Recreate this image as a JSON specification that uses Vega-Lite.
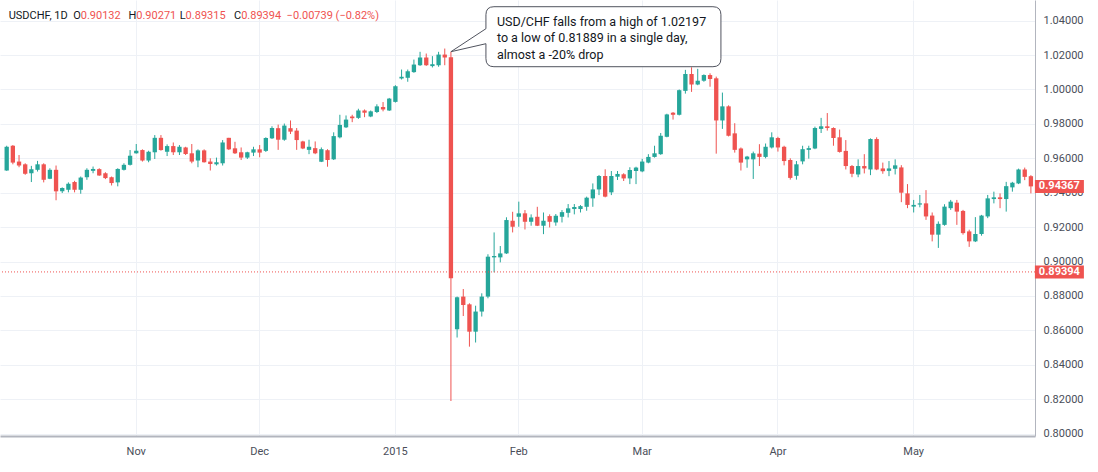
{
  "$schema": "https://vega.github.io/schema/vega-lite/v6.json",
  "width": 1035,
  "height": 436,
  "autosize": {"type": "none"},
  "padding": {"left": 0, "top": 0, "right": 63, "bottom": 36},
  "background": "#ffffff",
  "config": {"view": {"stroke": null}, "font": "Roboto", "axis": {"labelOverlap": false, "labelBound": false}},
  "datasets": {
    "ohlc": [
      {"d":"2014-10-03","o":0.9529,"h":0.9673,"l":0.9527,"c":0.9667},
      {"d":"2014-10-06","o":0.9673,"h":0.9677,"l":0.9565,"c":0.9575},
      {"d":"2014-10-07","o":0.9581,"h":0.9619,"l":0.9548,"c":0.9558},
      {"d":"2014-10-08","o":0.9565,"h":0.9571,"l":0.9504,"c":0.9510},
      {"d":"2014-10-09","o":0.9513,"h":0.9556,"l":0.9462,"c":0.9537},
      {"d":"2014-10-10","o":0.9533,"h":0.9585,"l":0.9523,"c":0.9565},
      {"d":"2014-10-13","o":0.9565,"h":0.9571,"l":0.9460,"c":0.9475},
      {"d":"2014-10-14","o":0.9481,"h":0.9542,"l":0.9479,"c":0.9533},
      {"d":"2014-10-15","o":0.9533,"h":0.9558,"l":0.9356,"c":0.9408},
      {"d":"2014-10-16","o":0.9408,"h":0.9431,"l":0.9398,"c":0.9427},
      {"d":"2014-10-17","o":0.9417,"h":0.9460,"l":0.9402,"c":0.9452},
      {"d":"2014-10-20","o":0.9462,"h":0.9469,"l":0.9402,"c":0.9417},
      {"d":"2014-10-21","o":0.9417,"h":0.9494,"l":0.9394,"c":0.9488},
      {"d":"2014-10-22","o":0.9490,"h":0.9542,"l":0.9475,"c":0.9533},
      {"d":"2014-10-23","o":0.9527,"h":0.9552,"l":0.9513,"c":0.9538},
      {"d":"2014-10-24","o":0.9537,"h":0.9542,"l":0.9498,"c":0.9500},
      {"d":"2014-10-27","o":0.9513,"h":0.9519,"l":0.9479,"c":0.9485},
      {"d":"2014-10-28","o":0.9490,"h":0.9494,"l":0.9442,"c":0.9456},
      {"d":"2014-10-29","o":0.9460,"h":0.9542,"l":0.9437,"c":0.9538},
      {"d":"2014-10-30","o":0.9533,"h":0.9571,"l":0.9529,"c":0.9562},
      {"d":"2014-10-31","o":0.9562,"h":0.9648,"l":0.9558,"c":0.9615},
      {"d":"2014-11-03","o":0.9629,"h":0.9683,"l":0.9627,"c":0.9644},
      {"d":"2014-11-04","o":0.9648,"h":0.9652,"l":0.9581,"c":0.9587},
      {"d":"2014-11-05","o":0.9587,"h":0.9644,"l":0.9577,"c":0.9638},
      {"d":"2014-11-06","o":0.9635,"h":0.9735,"l":0.9596,"c":0.9719},
      {"d":"2014-11-07","o":0.9719,"h":0.9735,"l":0.9644,"c":0.9648},
      {"d":"2014-11-10","o":0.9638,"h":0.9681,"l":0.9613,"c":0.9671},
      {"d":"2014-11-11","o":0.9671,"h":0.9692,"l":0.9619,"c":0.9635},
      {"d":"2014-11-12","o":0.9635,"h":0.9677,"l":0.9619,"c":0.9667},
      {"d":"2014-11-13","o":0.9663,"h":0.9667,"l":0.9619,"c":0.9625},
      {"d":"2014-11-14","o":0.9629,"h":0.9683,"l":0.9571,"c":0.9581},
      {"d":"2014-11-17","o":0.9587,"h":0.9652,"l":0.9548,"c":0.9646},
      {"d":"2014-11-18","o":0.9646,"h":0.9652,"l":0.9575,"c":0.9577},
      {"d":"2014-11-19","o":0.9581,"h":0.9600,"l":0.9529,"c":0.9567},
      {"d":"2014-11-20","o":0.9565,"h":0.9604,"l":0.9558,"c":0.9577},
      {"d":"2014-11-21","o":0.9571,"h":0.9706,"l":0.9558,"c":0.9692},
      {"d":"2014-11-24","o":0.9719,"h":0.9719,"l":0.9648,"c":0.9652},
      {"d":"2014-11-25","o":0.9658,"h":0.9696,"l":0.9625,"c":0.9629},
      {"d":"2014-11-26","o":0.9635,"h":0.9663,"l":0.9590,"c":0.9604},
      {"d":"2014-11-27","o":0.9604,"h":0.9638,"l":0.9596,"c":0.9635},
      {"d":"2014-11-28","o":0.9633,"h":0.9667,"l":0.9613,"c":0.9652},
      {"d":"2014-12-01","o":0.9652,"h":0.9677,"l":0.9606,"c":0.9633},
      {"d":"2014-12-02","o":0.9643,"h":0.9722,"l":0.9637,"c":0.9718},
      {"d":"2014-12-03","o":0.9716,"h":0.9786,"l":0.9712,"c":0.9776},
      {"d":"2014-12-04","o":0.9775,"h":0.9796,"l":0.9649,"c":0.9708},
      {"d":"2014-12-05","o":0.9708,"h":0.9802,"l":0.9702,"c":0.9790},
      {"d":"2014-12-08","o":0.9775,"h":0.9820,"l":0.9741,"c":0.9755},
      {"d":"2014-12-09","o":0.9761,"h":0.9776,"l":0.9649,"c":0.9706},
      {"d":"2014-12-10","o":0.9698,"h":0.9702,"l":0.9653,"c":0.9657},
      {"d":"2014-12-11","o":0.9649,"h":0.9708,"l":0.9624,"c":0.9667},
      {"d":"2014-12-12","o":0.9659,"h":0.9698,"l":0.9624,"c":0.9629},
      {"d":"2014-12-15","o":0.9580,"h":0.9663,"l":0.9578,"c":0.9653},
      {"d":"2014-12-16","o":0.9647,"h":0.9653,"l":0.9551,"c":0.9590},
      {"d":"2014-12-17","o":0.9594,"h":0.9751,"l":0.9590,"c":0.9729},
      {"d":"2014-12-18","o":0.9722,"h":0.9853,"l":0.9716,"c":0.9794},
      {"d":"2014-12-19","o":0.9780,"h":0.9849,"l":0.9776,"c":0.9825},
      {"d":"2014-12-22","o":0.9843,"h":0.9853,"l":0.9810,"c":0.9833},
      {"d":"2014-12-23","o":0.9835,"h":0.9888,"l":0.9829,"c":0.9878},
      {"d":"2014-12-24","o":0.9878,"h":0.9884,"l":0.9839,"c":0.9865},
      {"d":"2014-12-26","o":0.9843,"h":0.9878,"l":0.9839,"c":0.9873},
      {"d":"2014-12-29","o":0.9869,"h":0.9914,"l":0.9863,"c":0.9902},
      {"d":"2014-12-30","o":0.9898,"h":0.9927,"l":0.9873,"c":0.9884},
      {"d":"2014-12-31","o":0.9878,"h":0.9951,"l":0.9875,"c":0.9947},
      {"d":"2015-01-02","o":0.9928,"h":1.0025,"l":0.9924,"c":1.0019},
      {"d":"2015-01-05","o":1.0064,"h":1.0116,"l":1.0058,"c":1.0074},
      {"d":"2015-01-06","o":1.0068,"h":1.0116,"l":1.0045,"c":1.0106},
      {"d":"2015-01-07","o":1.0101,"h":1.0174,"l":1.0097,"c":1.0145},
      {"d":"2015-01-08","o":1.0141,"h":1.0219,"l":1.0137,"c":1.0186},
      {"d":"2015-01-09","o":1.0186,"h":1.0209,"l":1.0137,"c":1.0141},
      {"d":"2015-01-12","o":1.0136,"h":1.0194,"l":1.0128,"c":1.0147},
      {"d":"2015-01-13","o":1.0141,"h":1.0219,"l":1.0132,"c":1.0203},
      {"d":"2015-01-14","o":1.0203,"h":1.0238,"l":1.0141,"c":1.0186},
      {"d":"2015-01-15","o":1.0188,"h":1.02197,"l":0.81889,"c":0.8902},
      {"d":"2015-01-16","o":0.8606,"h":0.8796,"l":0.8558,"c":0.8792},
      {"d":"2015-01-20","o":0.8796,"h":0.8840,"l":0.8683,"c":0.8747},
      {"d":"2015-01-21","o":0.8751,"h":0.8757,"l":0.8505,"c":0.8592},
      {"d":"2015-01-22","o":0.8592,"h":0.8743,"l":0.8529,"c":0.8709},
      {"d":"2015-01-23","o":0.8709,"h":0.8815,"l":0.8680,"c":0.8796},
      {"d":"2015-01-26","o":0.8796,"h":0.9042,"l":0.8786,"c":0.9028},
      {"d":"2015-01-27","o":0.9024,"h":0.9169,"l":0.8937,"c":0.9032},
      {"d":"2015-01-28","o":0.9024,"h":0.9090,"l":0.8995,"c":0.9047},
      {"d":"2015-01-29","o":0.9047,"h":0.9257,"l":0.9044,"c":0.9241},
      {"d":"2015-01-30","o":0.9237,"h":0.9289,"l":0.9169,"c":0.9202},
      {"d":"2015-02-02","o":0.9260,"h":0.9348,"l":0.9202,"c":0.9280},
      {"d":"2015-02-03","o":0.9280,"h":0.9299,"l":0.9186,"c":0.9231},
      {"d":"2015-02-04","o":0.9231,"h":0.9274,"l":0.9208,"c":0.9256},
      {"d":"2015-02-05","o":0.9260,"h":0.9318,"l":0.9206,"c":0.9208},
      {"d":"2015-02-06","o":0.9208,"h":0.9285,"l":0.9159,"c":0.9237},
      {"d":"2015-02-09","o":0.9264,"h":0.9274,"l":0.9198,"c":0.9231},
      {"d":"2015-02-10","o":0.9227,"h":0.9276,"l":0.9208,"c":0.9266},
      {"d":"2015-02-11","o":0.9260,"h":0.9299,"l":0.9227,"c":0.9287},
      {"d":"2015-02-12","o":0.9283,"h":0.9334,"l":0.9256,"c":0.9309},
      {"d":"2015-02-13","o":0.9305,"h":0.9334,"l":0.9274,"c":0.9317},
      {"d":"2015-02-16","o":0.9305,"h":0.9328,"l":0.9285,"c":0.9322},
      {"d":"2015-02-17","o":0.9318,"h":0.9377,"l":0.9295,"c":0.9371},
      {"d":"2015-02-18","o":0.9367,"h":0.9454,"l":0.9318,"c":0.9419},
      {"d":"2015-02-19","o":0.9419,"h":0.9503,"l":0.9386,"c":0.9497},
      {"d":"2015-02-20","o":0.9497,"h":0.9536,"l":0.9373,"c":0.9377},
      {"d":"2015-02-23","o":0.9402,"h":0.9526,"l":0.9386,"c":0.9497},
      {"d":"2015-02-24","o":0.9493,"h":0.9526,"l":0.9474,"c":0.9509},
      {"d":"2015-02-25","o":0.9507,"h":0.9513,"l":0.9468,"c":0.9483},
      {"d":"2015-02-26","o":0.9483,"h":0.9548,"l":0.9450,"c":0.9532},
      {"d":"2015-02-27","o":0.9526,"h":0.9551,"l":0.9450,"c":0.9546},
      {"d":"2015-03-02","o":0.9524,"h":0.9597,"l":0.9519,"c":0.9581},
      {"d":"2015-03-03","o":0.9575,"h":0.9624,"l":0.9571,"c":0.9608},
      {"d":"2015-03-04","o":0.9608,"h":0.9673,"l":0.9604,"c":0.9629},
      {"d":"2015-03-05","o":0.9624,"h":0.9747,"l":0.9620,"c":0.9731},
      {"d":"2015-03-06","o":0.9725,"h":0.9859,"l":0.9722,"c":0.9855},
      {"d":"2015-03-09","o":0.9865,"h":0.9869,"l":0.9825,"c":0.9853},
      {"d":"2015-03-10","o":0.9853,"h":1.0000,"l":0.9849,"c":0.9996},
      {"d":"2015-03-11","o":0.9992,"h":1.0114,"l":0.9976,"c":1.0090},
      {"d":"2015-03-12","o":1.0090,"h":1.0129,"l":0.9986,"c":1.0029},
      {"d":"2015-03-13","o":1.0029,"h":1.0120,"l":1.0025,"c":1.0051},
      {"d":"2015-03-16","o":1.0051,"h":1.0088,"l":1.0045,"c":1.0084},
      {"d":"2015-03-17","o":1.0084,"h":1.0094,"l":1.0016,"c":1.0061},
      {"d":"2015-03-18","o":1.0065,"h":1.0075,"l":0.9627,"c":0.9820},
      {"d":"2015-03-19","o":0.9820,"h":0.9982,"l":0.9771,"c":0.9902},
      {"d":"2015-03-20","o":0.9902,"h":0.9908,"l":0.9727,"c":0.9731},
      {"d":"2015-03-23","o":0.9745,"h":0.9804,"l":0.9633,"c":0.9649},
      {"d":"2015-03-24","o":0.9657,"h":0.9663,"l":0.9529,"c":0.9575},
      {"d":"2015-03-25","o":0.9594,"h":0.9614,"l":0.9545,"c":0.9610},
      {"d":"2015-03-26","o":0.9594,"h":0.9639,"l":0.9480,"c":0.9629},
      {"d":"2015-03-27","o":0.9627,"h":0.9682,"l":0.9555,"c":0.9608},
      {"d":"2015-03-30","o":0.9608,"h":0.9686,"l":0.9600,"c":0.9667},
      {"d":"2015-03-31","o":0.9663,"h":0.9751,"l":0.9657,"c":0.9722},
      {"d":"2015-04-01","o":0.9718,"h":0.9725,"l":0.9639,"c":0.9663},
      {"d":"2015-04-02","o":0.9667,"h":0.9673,"l":0.9559,"c":0.9584},
      {"d":"2015-04-03","o":0.9590,"h":0.9600,"l":0.9476,"c":0.9486},
      {"d":"2015-04-06","o":0.9498,"h":0.9584,"l":0.9476,"c":0.9565},
      {"d":"2015-04-07","o":0.9582,"h":0.9673,"l":0.9565,"c":0.9653},
      {"d":"2015-04-08","o":0.9649,"h":0.9673,"l":0.9598,"c":0.9659},
      {"d":"2015-04-09","o":0.9657,"h":0.9784,"l":0.9653,"c":0.9776},
      {"d":"2015-04-10","o":0.9771,"h":0.9835,"l":0.9747,"c":0.9786},
      {"d":"2015-04-13","o":0.9786,"h":0.9863,"l":0.9761,"c":0.9776},
      {"d":"2015-04-14","o":0.9776,"h":0.9780,"l":0.9673,"c":0.9718},
      {"d":"2015-04-15","o":0.9722,"h":0.9767,"l":0.9633,"c":0.9637},
      {"d":"2015-04-16","o":0.9643,"h":0.9706,"l":0.9535,"c":0.9555},
      {"d":"2015-04-17","o":0.9555,"h":0.9561,"l":0.9490,"c":0.9510},
      {"d":"2015-04-20","o":0.9506,"h":0.9594,"l":0.9490,"c":0.9555},
      {"d":"2015-04-21","o":0.9555,"h":0.9624,"l":0.9512,"c":0.9541},
      {"d":"2015-04-22","o":0.9535,"h":0.9716,"l":0.9502,"c":0.9712},
      {"d":"2015-04-23","o":0.9712,"h":0.9722,"l":0.9531,"c":0.9535},
      {"d":"2015-04-24","o":0.9541,"h":0.9575,"l":0.9510,"c":0.9525},
      {"d":"2015-04-27","o":0.9527,"h":0.9584,"l":0.9496,"c":0.9541},
      {"d":"2015-04-28","o":0.9539,"h":0.9594,"l":0.9506,"c":0.9559},
      {"d":"2015-04-29","o":0.9547,"h":0.9560,"l":0.9345,"c":0.9400},
      {"d":"2015-04-30","o":0.9396,"h":0.9450,"l":0.9310,"c":0.9329},
      {"d":"2015-05-01","o":0.9319,"h":0.9358,"l":0.9285,"c":0.9329},
      {"d":"2015-05-04","o":0.9331,"h":0.9387,"l":0.9315,"c":0.9338},
      {"d":"2015-05-05","o":0.9338,"h":0.9415,"l":0.9242,"c":0.9262},
      {"d":"2015-05-06","o":0.9267,"h":0.9285,"l":0.9117,"c":0.9156},
      {"d":"2015-05-07","o":0.9156,"h":0.9233,"l":0.9079,"c":0.9219},
      {"d":"2015-05-08","o":0.9213,"h":0.9333,"l":0.9208,"c":0.9319},
      {"d":"2015-05-11","o":0.9310,"h":0.9358,"l":0.9300,"c":0.9348},
      {"d":"2015-05-12","o":0.9342,"h":0.9358,"l":0.9213,"c":0.9290},
      {"d":"2015-05-13","o":0.9294,"h":0.9300,"l":0.9156,"c":0.9165},
      {"d":"2015-05-14","o":0.9175,"h":0.9185,"l":0.9085,"c":0.9117},
      {"d":"2015-05-15","o":0.9117,"h":0.9258,"l":0.9113,"c":0.9160},
      {"d":"2015-05-18","o":0.9160,"h":0.9271,"l":0.9150,"c":0.9267},
      {"d":"2015-05-19","o":0.9262,"h":0.9387,"l":0.9252,"c":0.9367},
      {"d":"2015-05-20","o":0.9363,"h":0.9406,"l":0.9338,"c":0.9373},
      {"d":"2015-05-21","o":0.9373,"h":0.9396,"l":0.9310,"c":0.9363},
      {"d":"2015-05-22","o":0.9363,"h":0.9463,"l":0.9290,"c":0.9438},
      {"d":"2015-05-25","o":0.9431,"h":0.9463,"l":0.9406,"c":0.9458},
      {"d":"2015-05-26","o":0.9454,"h":0.9540,"l":0.9450,"c":0.9535},
      {"d":"2015-05-27","o":0.9535,"h":0.9546,"l":0.9473,"c":0.9492},
      {"d":"2015-05-28","o":0.9496,"h":0.9502,"l":0.9396,"c":0.94367}
    ],
    "hdr": [
      {"a":"USDCHF, 1D\u00a0 O","v":"0.90132","at":"2014-10-21"},
      {"a":"H","v":"0.90271","at":"2014-11-03"},
      {"a":"L","v":"0.89315","at":"2014-11-13"},
      {"a":"C","v":"0.89394\u00a0 \u22120.00739 (\u22120.82%)","at":"2014-11-26"}
    ],
    "ann": [
      {"at":"2015-01-15","p":1.02197,"t":"USD/CHF falls from a high of 1.02197\nto a low of 0.81889 in a single day,\nalmost a -20% drop"}
    ],
    "px": [
      {"p":0.94367},
      {"p":0.89394}
    ]
  },
  "layer": [
    {
      "data": {"name": "ohlc"},
      "mark": {"type": "rule", "strokeWidth": 1},
      "encoding": {
        "x": {
          "field": "d", "type": "ordinal",
          "scale": {"paddingInner": 0.3, "paddingOuter": 0.525, "align": 0.7},
          "axis": {
            "title": null,
            "values": ["2014-11-03","2014-12-01","2015-01-02","2015-02-02","2015-03-02","2015-04-01","2015-05-01"],
            "labelExpr": "datum.value=='2014-11-03'?'Nov':datum.value=='2014-12-01'?'Dec':datum.value=='2015-01-02'?'2015':datum.value=='2015-02-02'?'Feb':datum.value=='2015-03-02'?'Mar':datum.value=='2015-04-01'?'Apr':'May'",
            "grid": true, "gridColor": "#eef1f6", "gridWidth": 1,
            "ticks": false, "bandPosition": 0.5,
            "domainColor": "#b2b5be", "domainWidth": 2,
            "labelAngle": 0, "labelPadding": 9, "labelFontSize": 11,
            "labelColor": "#4a4e59", "labelFont": "Roboto"
          }
        },
        "y": {
          "field": "l", "type": "quantitative",
          "scale": {"domain": [0.79855, 1.05203], "nice": false, "zero": false},
          "axis": {
            "orient": "right", "title": null,
            "values": [0.80,0.82,0.84,0.86,0.88,0.90,0.92,0.94,0.96,0.98,1.00,1.02,1.04],
            "tickCount": 20,
            "format": ".5f",
            "grid": true, "gridColor": "#eef1f6", "gridWidth": 1,
            "ticks": false, "domainColor": "#b2b5be", "domainWidth": 1,
            "labelPadding": 8, "labelFontSize": 11, "labelColor": "#4a4e59",
            "labelFont": "Roboto", "labelFlush": false, "labelOverlap": false, "labelBound": false
          }
        },
        "y2": {"field": "h"},
        "color": {"condition": {"test": "datum.c >= datum.o", "value": "#26a69a"}, "value": "#ef5350"}
      }
    },
    {
      "data": {"name": "ohlc"},
      "mark": {"type": "bar"},
      "encoding": {
        "x": {"field": "d", "type": "ordinal"},
        "y": {"field": "o", "type": "quantitative"},
        "y2": {"field": "c"},
        "color": {"condition": {"test": "datum.c >= datum.o", "value": "#26a69a"}, "value": "#ef5350"}
      }
    },
    {
      "data": {"name": "px"},
      "transform": [{"filter": "datum.p < 0.9"}],
      "mark": {"type": "rule", "color": "#ef5350", "strokeDash": [1, 2], "strokeWidth": 1},
      "encoding": {
        "y": {"field": "p", "type": "quantitative"}
      }
    },
    {
      "data": {"name": "hdr"},
      "mark": {"type": "text", "align": "right", "baseline": "middle", "fontSize": 11, "font": "Roboto", "color": "#131722"},
      "encoding": {
        "x": {"field": "at", "type": "ordinal"},
        "y": {"datum": 1.0427},
        "text": {"field": "a"}
      }
    },
    {
      "data": {"name": "hdr"},
      "mark": {"type": "text", "align": "left", "baseline": "middle", "fontSize": 11, "font": "Roboto", "color": "#ef5350"},
      "encoding": {
        "x": {"field": "at", "type": "ordinal"},
        "y": {"datum": 1.0427},
        "text": {"field": "v"}
      }
    },
    {
      "data": {"name": "ann"},
      "mark": {
        "type": "point",
        "shape": "M0,0L35,-23L35,-37Q35,-45 43,-45L262,-45Q270,-45 270,-37L270,7Q270,15 262,15L43,15Q35,15 35,7L35,-8Z",
        "size": 4, "filled": true, "fill": "#ffffff", "stroke": "#50535e", "strokeWidth": 1, "opacity": 1
      },
      "encoding": {
        "x": {"field": "at", "type": "ordinal"},
        "y": {"field": "p", "type": "quantitative"}
      }
    },
    {
      "data": {"name": "ann"},
      "mark": {"type": "text", "align": "left", "baseline": "middle", "dx": 46, "dy": -30, "lineBreak": "\n", "lineHeight": 16.5, "fontSize": 12.5, "font": "Roboto", "color": "#131722"},
      "encoding": {
        "x": {"field": "at", "type": "ordinal"},
        "y": {"field": "p", "type": "quantitative"},
        "text": {"field": "t"}
      }
    },
    {
      "data": {"name": "px"},
      "mark": {
        "type": "point",
        "shape": "M4,-6.5L53,-6.5L53,6.5L4,6.5Z",
        "size": 4, "filled": true, "fill": "#ef5350", "strokeWidth": 0, "opacity": 1
      },
      "encoding": {
        "x": {"datum": "2015-05-28", "type": "ordinal"},
        "y": {"field": "p", "type": "quantitative"}
      }
    },
    {
      "data": {"name": "px"},
      "mark": {"type": "text", "align": "center", "baseline": "middle", "dx": 28.5, "fontSize": 11, "fontWeight": "bold", "font": "Roboto", "color": "#ffffff"},
      "encoding": {
        "x": {"datum": "2015-05-28", "type": "ordinal"},
        "y": {"field": "p", "type": "quantitative"},
        "text": {"field": "p", "type": "quantitative", "format": ".5f"}
      }
    }
  ]
}
